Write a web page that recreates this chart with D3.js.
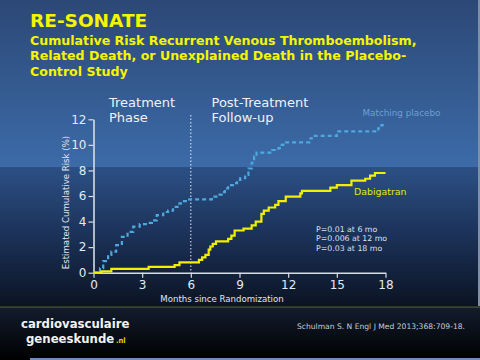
<!DOCTYPE html>
<html><head><meta charset="utf-8">
<script src="https://cdn.jsdelivr.net/npm/d3@7"></script>
<style>html,body{margin:0;padding:0;background:#000;}svg{display:block;}</style>
</head><body>
<script>
const xTicks = [0, 3, 6, 9, 12, 15, 18];
const yTicks = [0, 2, 4, 6, 8, 10, 12];
const dabiMonths = [0,0.5,1.1,3.4,5.0,5.3,6.5,6.7,6.9,7.1,7.2,7.35,7.55,8.3,8.5,8.7,9.25,9.75,10.0,10.35,10.5,10.8,11.2,11.4,11.85,12.75,12.85,14.6,15.0,15.9,16.75,17.05,17.35,18.0];
const dabiRisk = [0,0.1,0.3,0.45,0.6,0.8,1.0,1.2,1.4,1.8,2.05,2.25,2.45,2.65,2.9,3.3,3.45,3.7,4.0,4.6,4.85,5.1,5.3,5.6,5.95,6.2,6.4,6.65,6.85,7.2,7.35,7.6,7.8,7.8];
const placMonths = [0,0.4,0.6,0.9,1.1,1.4,1.75,2.1,2.45,2.85,3.3,3.6,3.9,4.3,4.6,4.9,5.3,5.5,5.8,7.3,7.7,7.9,8.1,8.3,8.6,8.85,9.05,9.35,9.55,9.75,9.9,10.05,11.0,11.4,11.6,11.7,13.3,13.45,15.0,17.55,17.75,18.0];
const placRisk = [0,0.35,0.9,1.4,1.65,2.15,2.8,3.2,3.6,3.8,3.9,4.1,4.5,4.75,4.85,5.15,5.43,5.6,5.74,5.95,6.1,6.3,6.6,6.85,7.0,7.25,7.4,7.65,8.15,8.6,9.1,9.4,9.6,9.75,10.0,10.2,10.5,10.7,11.05,11.3,11.55,11.55];
const titleText = "RE-SONATE";
const subtitleLines = ["Cumulative Risk Recurrent Venous Thromboembolism,", "Related Death, or Unexplained Death in the Placebo-", "Control Study"];
const pValues = ["P=0.01 at 6 mo", "P=0.006 at 12 mo", "P=0.03 at 18 mo"];

const W = 480, H = 360;
const svg = d3.select("body").append("svg").attr("width", W).attr("height", H);
const defs = svg.append("defs");
const g1 = defs.append("linearGradient").attr("id","bgTop").attr("x1",0).attr("y1",0).attr("x2",0).attr("y2",1);
g1.append("stop").attr("offset","0%").attr("stop-color","#2c4876");
g1.append("stop").attr("offset","100%").attr("stop-color","#3c6ba8");
const g2 = defs.append("linearGradient").attr("id","bgBot").attr("x1",0).attr("y1",0).attr("x2",0).attr("y2",1);
g2.append("stop").attr("offset","0%").attr("stop-color","#2c5085");
g2.append("stop").attr("offset","50%").attr("stop-color","#1b3157");
g2.append("stop").attr("offset","100%").attr("stop-color","#0b1322");
const g3 = defs.append("linearGradient").attr("id","bgFoot").attr("x1",0).attr("y1",0).attr("x2",0).attr("y2",1);
g3.append("stop").attr("offset","0%").attr("stop-color","#131d2e");
g3.append("stop").attr("offset","100%").attr("stop-color","#000000");

svg.append("rect").attr("x",0).attr("y",0).attr("width",W).attr("height",167).attr("fill","url(#bgTop)");
svg.append("rect").attr("x",0).attr("y",167).attr("width",W).attr("height",140).attr("fill","url(#bgBot)");
svg.append("rect").attr("x",0).attr("y",307).attr("width",W).attr("height",53).attr("fill","url(#bgFoot)");
svg.append("rect").attr("x",0).attr("y",306.5).attr("width",W).attr("height",1.2).attr("fill","#4b5a33");
svg.append("rect").attr("x",30).attr("y",358).attr("width",W-30).attr("height",2).attr("fill","#6f8fb8");
svg.append("rect").attr("x",W-2).attr("y",0).attr("width",2).attr("height",306).attr("fill","#7f8fa5");

// Title
svg.append("text").attr("x",30).attr("y",27).text(titleText)
  .attr("font-family","DejaVu Sans, Verdana, sans-serif").attr("font-weight","bold").attr("font-size",18.5).attr("fill","#f5f500");
svg.append("g").selectAll("text").data(subtitleLines).join("text")
  .attr("x",30).attr("y",(d,i)=>44.5+i*15.8).text(d=>d)
  .attr("font-family","DejaVu Sans, Verdana, sans-serif").attr("font-weight","bold").attr("font-size",12.6).attr("fill","#f5f500");

const x = d3.scaleLinear().domain([0,18]).range([93.5,385.5]);
const y = d3.scaleLinear().domain([0,12]).range([272.7,119.3]);

const axisColor = "#d5dde8";
const fontAx = "DejaVu Sans, Verdana, sans-serif";

const xAxis = svg.append("g").attr("transform",`translate(0,${y(0)})`)
  .call(d3.axisBottom(x).tickValues(xTicks).tickSize(5).tickPadding(3).tickSizeOuter(0));
const yAxis = svg.append("g").attr("transform",`translate(${x(0)},0)`)
  .call(d3.axisLeft(y).tickValues(yTicks).tickSize(5).tickPadding(2).tickSizeOuter(0));
[xAxis,yAxis].forEach(a=>{
  a.select(".domain").attr("stroke",axisColor).attr("stroke-width",1.6);
  a.selectAll(".tick line").attr("stroke",axisColor).attr("stroke-width",1.2);
  a.selectAll(".tick text").attr("fill","#e4eaf2").attr("font-family",fontAx).attr("font-size",12);
});

// Dotted divider at 6 months
svg.append("line").attr("x1",x(6)).attr("x2",x(6)).attr("y1",115).attr("y2",y(0))
  .attr("stroke","#e8eef5").attr("stroke-width",1).attr("stroke-dasharray","1.5,2");

// Phase labels
const phase = svg.append("g").attr("font-family",fontAx).attr("font-size",13).attr("fill","#eef2f7");
phase.append("text").attr("x",109).attr("y",107).text("Treatment");
phase.append("text").attr("x",109).attr("y",122).text("Phase");
phase.append("text").attr("x",211.5).attr("y",107).text("Post-Treatment");
phase.append("text").attr("x",211.5).attr("y",122).text("Follow-up");

// Axis titles
svg.append("text").attr("x",222).attr("y",301.5).attr("text-anchor","middle")
  .attr("font-family",fontAx).attr("font-size",8.6).attr("fill","#e0e6ee").text("Months since Randomization");
svg.append("text").attr("transform","translate(68.5,202.5) rotate(-90)").attr("text-anchor","middle")
  .attr("font-family",fontAx).attr("font-size",8.6).attr("fill","#e0e6ee").text("Estimated Cumulative Risk (%)");

const line = d3.line().curve(d3.curveStepAfter).x(d=>x(d[0])).y(d=>y(d[1]));
svg.append("path").datum(placMonths.map((m,i)=>[m,placRisk[i]])).attr("d",line)
  .attr("fill","none").attr("stroke","#4ea8e0").attr("stroke-width",2.2).attr("stroke-dasharray","4,3");
svg.append("path").datum(dabiMonths.map((m,i)=>[m,dabiRisk[i]])).attr("d",line)
  .attr("fill","none").attr("stroke","#f2f000").attr("stroke-width",2.2);

// Series labels
svg.append("text").attr("x",362.5).attr("y",116).attr("font-family",fontAx).attr("font-size",8.8).attr("fill","#6d9fd2").text("Matching placebo");
svg.append("text").attr("x",354).attr("y",195).attr("font-family",fontAx).attr("font-size",9.4).attr("fill","#e8e800").text("Dabigatran");

svg.append("g").selectAll("text").data(pValues).join("text")
  .attr("x",316).attr("y",(d,i)=>231.7+i*9.6).text(d=>d)
  .attr("font-family",fontAx).attr("font-size",7.8).attr("fill","#dce2ea");

// Footer
const foot = svg.append("g").attr("font-family","DejaVu Sans Condensed, DejaVu Sans, sans-serif").attr("font-weight","bold");
foot.append("text").attr("x",21).attr("y",328.3).attr("font-size",13).attr("fill","#f2f2f2").text("cardiovasculaire");
foot.append("text").attr("x",26).attr("y",343).attr("font-size",13).attr("fill","#f2f2f2").text("geneeskunde");
foot.append("text").attr("x",116).attr("y",343).attr("font-size",7.5).attr("fill","#e0d800").text(".nl");
svg.append("text").attr("x",465).attr("y",329).attr("text-anchor","end")
  .attr("font-family","DejaVu Sans, Verdana, sans-serif").attr("font-size",7.6).attr("fill","#c4ccd6")
  .text("Schulman S. N Engl J Med 2013;368:709-18.");
</script>
</body></html>
